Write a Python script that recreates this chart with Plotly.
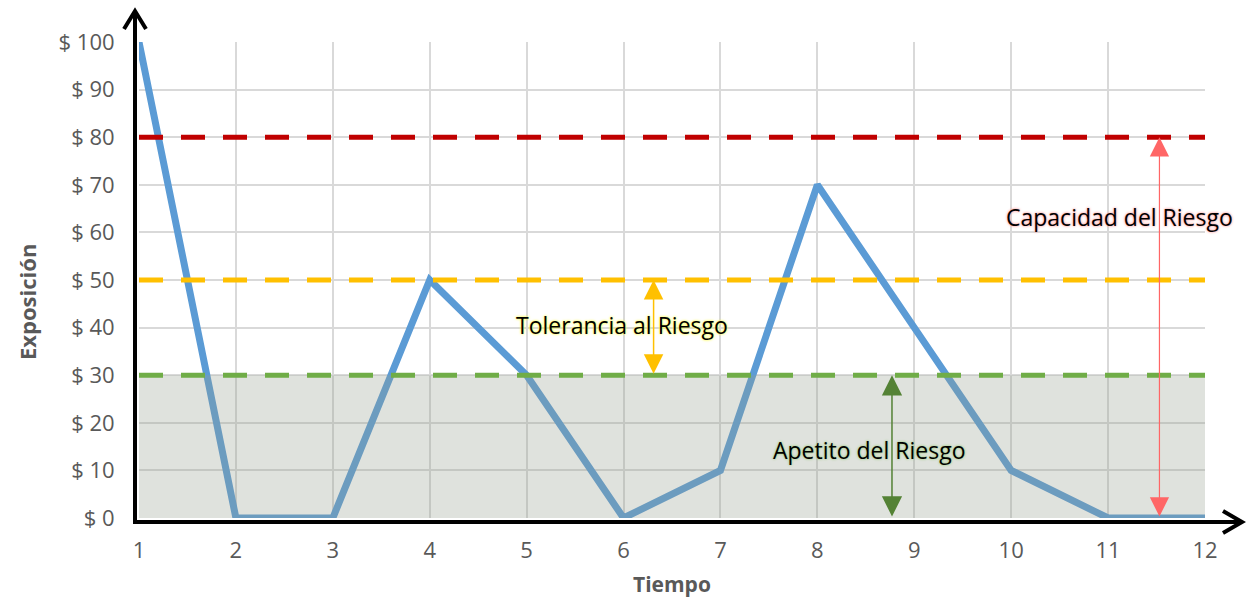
import plotly.graph_objects as go

# Exposure over time
tiempo = [1, 2, 3, 4, 5, 6, 7, 8, 9, 10, 11, 12]
exposicion = [100, 0, 0, 50, 30, 0, 10, 70, 40, 10, 0, 0]

# Risk thresholds
apetito = 30
tolerancia = 50
capacidad = 80

y_ticks = [0, 10, 20, 30, 40, 50, 60, 70, 80, 90, 100]
y_tick_text = ["$ 0", "$ 10", "$ 20", "$ 30", "$ 40", "$ 50", "$ 60", "$ 70", "$ 80", "$ 90", "$ 100"]
x_ticks = tiempo
x_tick_text = [str(t) for t in tiempo]

FONT = "Open Sans, Lato, sans-serif"
GRAY = "#595959"

W, H = 1246, 601
L, R, T, B = 139, 41, 42, 83
PW, PH = W - L - R, H - T - B


def px(xp):
    return (xp - L) / PW


def py(yp):
    return (H - B - yp) / PH


x0, x1 = tiempo[0], tiempo[-1]

fig = go.Figure()

# Exposure line
fig.add_trace(go.Scatter(
    x=tiempo, y=exposicion, mode="lines",
    line=dict(color="#5b9bd5", width=7),
    hoverinfo="skip", showlegend=False,
))

# Translucent band for the risk appetite zone
fig.add_trace(go.Scatter(
    x=[x0, x1, x1, x0, x0], y=[0, 0, apetito, apetito, 0],
    mode="lines", fill="toself",
    fillcolor="rgba(150,160,143,0.30)", line=dict(width=0),
    hoverinfo="skip", showlegend=False,
))

# Threshold lines
for level, color in [(capacidad, "#c00000"), (tolerancia, "#ffc000"), (apetito, "#70ad47")]:
    fig.add_trace(go.Scatter(
        x=[x0, x1], y=[level, level], mode="lines",
        line=dict(color=color, width=5, dash="24px,18px"),
        hoverinfo="skip", showlegend=False,
    ))

# Double-headed range arrows
arrows = [
    (11.53, 0, capacidad, "#ff6666", 1.2, 3.2),
    (6.31, apetito, tolerancia, "#ffc000", 1.5, 2.6),
    (8.77, 0, apetito, "#548235", 1.5, 2.7),
]
for ax_x, lo, hi, color, w, s in arrows:
    fig.add_annotation(
        x=ax_x, y=hi, ax=ax_x, ay=lo, xref="x", yref="y", axref="x", ayref="y",
        text="", showarrow=True, arrowside="end+start",
        arrowhead=2, startarrowhead=2, arrowsize=s, startarrowsize=s,
        arrowwidth=w, arrowcolor=color,
    )

# Zone labels
labels = [
    ("Capacidad del Riesgo", 11.12, 63.2, "0px 0px 3px #ff9a9a, 0px 0px 2px #ffc0c0"),
    ("Tolerancia al Riesgo", 5.98, 40.5, "0px 0px 3px #ffff40, 0px 0px 2px #ffff80"),
    ("Apetito del Riesgo", 8.54, 14.3, "0px 0px 3px #a9d18e, 0px 0px 2px #a9d18e"),
]
for txt, lx, ly, glow in labels:
    fig.add_annotation(
        x=lx, y=ly, xref="x", yref="y", text=txt, showarrow=False,
        font=dict(family=FONT, size=23, color="#000000", shadow=glow),
        xanchor="center", yanchor="middle",
    )

# Axis titles
fig.add_annotation(
    x=px(27), y=py(302), xref="paper", yref="paper", text="<b>Exposición</b>",
    textangle=-90, showarrow=False, xanchor="center", yanchor="middle",
    font=dict(family=FONT, size=22, color=GRAY),
)
fig.add_annotation(
    x=px(672), y=py(599), xref="paper", yref="paper", text="<b>Tiempo</b>",
    showarrow=False, xanchor="center", yanchor="bottom", borderpad=0,
    font=dict(family=FONT, size=21, color=GRAY),
)

# Black axes with open arrowheads
axis_line = dict(color="#000000", width=4)
fig.add_shape(type="line", xref="paper", yref="paper",
              x0=px(135), y0=py(524), x1=px(135), y1=py(11), line=axis_line)
fig.add_shape(type="path", xref="paper", yref="paper",
              path=f"M {px(124)},{py(29)} L {px(135)},{py(11)} L {px(146)},{py(29)}",
              line=axis_line)
fig.add_shape(type="line", xref="paper", yref="paper",
              x0=px(133), y0=py(522), x1=px(1242), y1=py(522), line=axis_line)
fig.add_shape(type="path", xref="paper", yref="paper",
              path=f"M {px(1223)},{py(511)} L {px(1242)},{py(522)} L {px(1223)},{py(533)}",
              line=axis_line)

fig.update_xaxes(
    range=[x0, x1], tickvals=x_ticks, ticktext=x_tick_text,
    showgrid=True, gridcolor="#d9d9d9", gridwidth=2,
    zeroline=False, showline=False,
    ticks="outside", ticklen=13, tickcolor="rgba(0,0,0,0)",
    tickfont=dict(family=FONT, size=22, color=GRAY),
)
fig.update_yaxes(
    range=[0, 100], tickvals=y_ticks, ticktext=y_tick_text,
    showgrid=True, gridcolor="#d9d9d9", gridwidth=2,
    zeroline=False, showline=False,
    ticks="outside", ticklen=19, tickcolor="rgba(0,0,0,0)",
    tickfont=dict(family=FONT, size=22, color=GRAY),
)

fig.update_layout(
    width=W, height=H,
    margin=dict(l=L, r=R, t=T, b=B),
    paper_bgcolor="#ffffff", plot_bgcolor="#ffffff",
    showlegend=False,
)

fig.write_html("out.html")
